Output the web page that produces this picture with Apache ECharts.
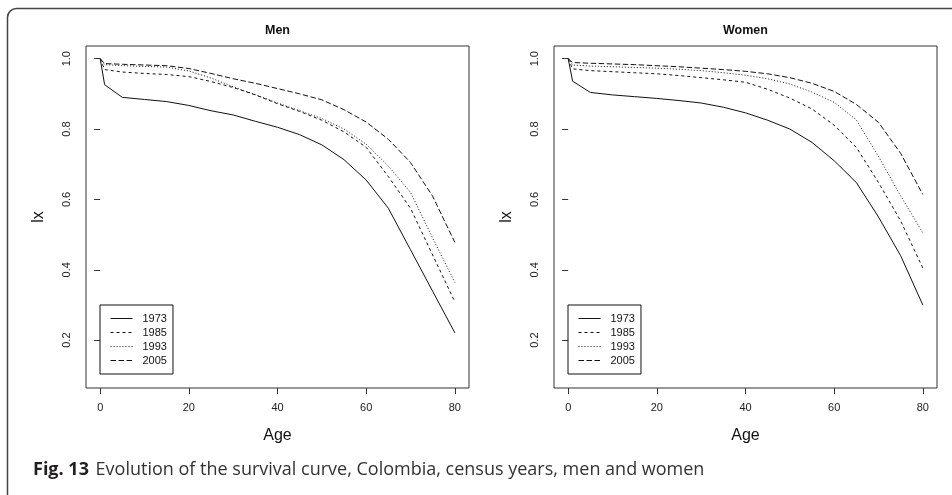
<!DOCTYPE html>
<html><head><meta charset="utf-8">
<script src="https://cdn.jsdelivr.net/npm/echarts@6/dist/echarts.min.js"></script>
<style>html,body{margin:0;padding:0;background:#fff}#c{width:952px;height:495px}</style>
</head><body><div id="c"></div>
<script>
const ages = [0, 1, 5, 10, 15, 20, 25, 30, 35, 40, 45, 50, 55, 60, 65, 70, 75, 80];
const years = ['1973', '1985', '1993', '2005'];
const men1973 = [1.0, 0.926, 0.890, 0.884, 0.878, 0.867, 0.852, 0.840, 0.822, 0.805, 0.784, 0.755, 0.713, 0.655, 0.575, 0.457, 0.339, 0.221];
const men1985 = [1.0, 0.969, 0.962, 0.958, 0.955, 0.949, 0.935, 0.918, 0.897, 0.872, 0.850, 0.825, 0.792, 0.748, 0.665, 0.575, 0.442, 0.309];
const men1993 = [1.0, 0.983, 0.980, 0.978, 0.976, 0.965, 0.945, 0.920, 0.898, 0.874, 0.852, 0.830, 0.800, 0.757, 0.695, 0.620, 0.490, 0.364];
const men2005 = [1.0, 0.986, 0.984, 0.982, 0.980, 0.972, 0.958, 0.943, 0.930, 0.915, 0.900, 0.883, 0.855, 0.820, 0.771, 0.705, 0.609, 0.478];
const women1973 = [1.0, 0.936, 0.904, 0.897, 0.892, 0.887, 0.881, 0.874, 0.862, 0.846, 0.825, 0.800, 0.762, 0.710, 0.648, 0.550, 0.440, 0.300];
const women1985 = [1.0, 0.971, 0.966, 0.963, 0.960, 0.957, 0.952, 0.946, 0.940, 0.933, 0.913, 0.888, 0.857, 0.811, 0.748, 0.648, 0.539, 0.405];
const women1993 = [1.0, 0.982, 0.979, 0.977, 0.975, 0.973, 0.970, 0.966, 0.960, 0.953, 0.943, 0.928, 0.905, 0.876, 0.826, 0.722, 0.610, 0.505];
const women2005 = [1.0, 0.989, 0.987, 0.985, 0.983, 0.980, 0.977, 0.973, 0.969, 0.964, 0.957, 0.946, 0.930, 0.907, 0.870, 0.819, 0.731, 0.614];
const xTicks = [0, 20, 40, 60, 80];
const yTicks = [0.2, 0.4, 0.6, 0.8, 1.0];
const panelTitles = ['Men', 'Women'];
const captionLabel = 'Fig. 13';
const caption = 'Evolution of the survival curve, Colombia, census years, men and women';

const dashes = ['solid', [3, 3], [1, 2], [5.5, 2.5]];
const menData = [men1973, men1985, men1993, men2005];
const womenData = [women1973, women1985, women1993, women2005];
const FONT = 'Liberation Sans, Arial, Helvetica, sans-serif';
const gridPos = [{left: 86, top: 46, width: 383, height: 342}, {left: 554, top: 46, width: 383, height: 342}];

function mkSeries(dataSets, idx) {
  return dataSets.map((vals, i) => ({
    type: 'line', name: years[i], xAxisIndex: idx, yAxisIndex: idx,
    data: ages.map((a, k) => [a, vals[k]]),
    symbol: 'none', silent: true,
    lineStyle: {color: '#111', width: 1, type: dashes[i]},
    itemStyle: {color: '#111'}
  }));
}

const chart = echarts.init(document.getElementById('c'), null, {renderer: 'canvas'});
const xAxes = [0, 1].map(i => ({
  type: 'value', gridIndex: i, min: -3.2, max: 83.2,
  splitLine: {show: false}, axisLine: {show: false},
  axisTick: {show: true, inside: false, length: 6, customValues: xTicks, lineStyle: {color: '#333'}},
  axisLabel: {customValues: xTicks, margin: 14, fontSize: 11, color: '#222', fontFamily: FONT},
  name: 'Age', nameLocation: 'middle', nameGap: 40,
  nameTextStyle: {fontSize: 16, color: '#111', fontFamily: FONT}
}));
const yAxes = [0, 1].map(i => ({
  type: 'value', gridIndex: i, min: 0.064, max: 1.036,
  splitLine: {show: false}, axisLine: {show: false},
  axisTick: {show: true, inside: false, length: 6, customValues: yTicks, lineStyle: {color: '#333'}},
  axisLabel: {customValues: yTicks, rotate: 90, margin: 14, fontSize: 11, color: '#222', fontFamily: FONT,
    formatter: v => v.toFixed(1)},
  name: 'lx', nameLocation: 'middle', nameGap: 39, nameRotate: 90,
  nameTextStyle: {fontSize: 16, color: '#111', fontFamily: FONT}
}));

const legends = [0, 1].map(i => ({
  orient: 'vertical', left: gridPos[i].left + 14, top: 305,
  data: years, selectedMode: false,
  borderColor: '#111', borderWidth: 1, borderRadius: 0,
  padding: [8, 6, 8, 10], itemGap: 3, itemWidth: 22, itemHeight: 11,
  itemStyle: {color: 'transparent', borderWidth: 0, opacity: 0},
  lineStyle: {width: 1},
  textStyle: {fontSize: 11, color: '#111', fontFamily: FONT, padding: [0, 0, 0, 5]}
}));

chart.setOption({
  animation: false,
  backgroundColor: '#fff',
  title: panelTitles.map((t, i) => ({
    text: t, left: gridPos[i].left + gridPos[i].width / 2, top: 24, textAlign: 'center', padding: 0,
    textStyle: {fontSize: 12.5, fontWeight: 'bold', color: '#111', fontFamily: FONT}
  })),
  grid: gridPos.map(g => Object.assign({show: true, borderColor: '#333', borderWidth: 1, backgroundColor: 'transparent'}, g)),
  xAxis: xAxes,
  yAxis: yAxes,
  legend: legends,
  series: mkSeries(menData, 0).concat(mkSeries(womenData, 1)),
  graphic: [
    {type: 'rect', left: 5, top: 6, shape: {width: 970, height: 520, r: 9}, silent: true, z: -10,
      style: {fill: 'none', stroke: '#444', lineWidth: 1.5}},
    {type: 'text', left: 33, top: 461, silent: true,
      style: {text: '{b|' + captionLabel + '}  {n|' + caption + '}', rich: {
        b: {fontFamily: 'Open Sans', fontWeight: 'bold', fontSize: 18, fill: '#231f20'},
        n: {fontFamily: 'Open Sans', fontSize: 18, fill: '#333'}
      }}}
  ]
});
</script></body></html>
